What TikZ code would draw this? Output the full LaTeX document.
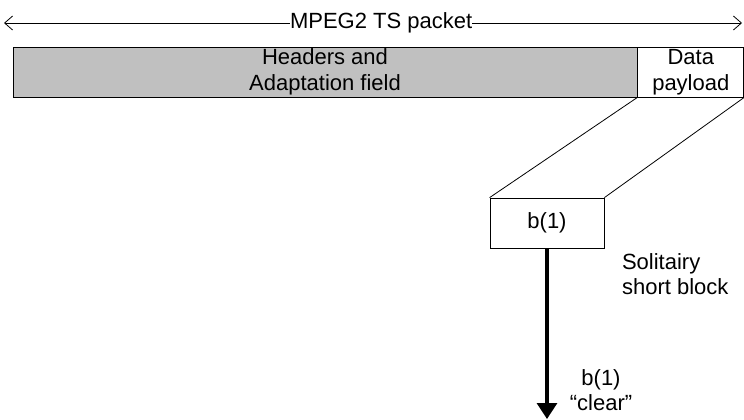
\documentclass[tikz,border=0pt]{standalone}
\usepackage{fontspec}
\setmainfont{Liberation Sans}
\usetikzlibrary{arrows.meta}
\usetikzlibrary{positioning}

\begin{document}
\begin{tikzpicture}[x=0.5pt, y=-0.5pt,
every node/.style={font=\fontsize{11}{12.8}\selectfont, align=center},
field/.style={draw, thin, inner sep=0pt, minimum height=25pt},
blockbox/.style={draw, thin, inner sep=0pt, minimum width=57pt, minimum height=25pt},
span/.style={{Straight Barb[length=4pt,width=7pt]}-{Straight Barb[length=4pt,width=7pt]}, thin},
flow/.style={-{Triangle[length=8pt,width=10pt]}, line width=1.6pt}]
\useasboundingbox (0,0) rectangle (744,419);

\node [field, fill={rgb,255:red,192;green,192;blue,192}, minimum width=312pt] (hdr) at (325,72) {Headers and\\Adaptation field};
\node [field, minimum width=53pt, right=0pt of hdr] (data) {Data\\payload};
\node [blockbox] (blk) at (547,223) {b(1)};

\coordinate (left) at (4,23);
\coordinate (right) at (742,23);
\coordinate (out) at (547,419);
\draw [span] (left) -- node [pos=0.511, fill=white, inner sep=0pt] (pkt) {MPEG2 TS packet} (right);

\draw [thin] (hdr.south east) -- (blk.north west);
\draw [thin] (data.south east) -- (blk.north east);
\draw [flow] (blk.south) -- (out);

\node [anchor=north west, align=left] (solo) at (615,246) {Solitairy\\short block};
\node (clr) at (601,390) {b(1)\\``clear''};
\end{tikzpicture}
\end{document}
